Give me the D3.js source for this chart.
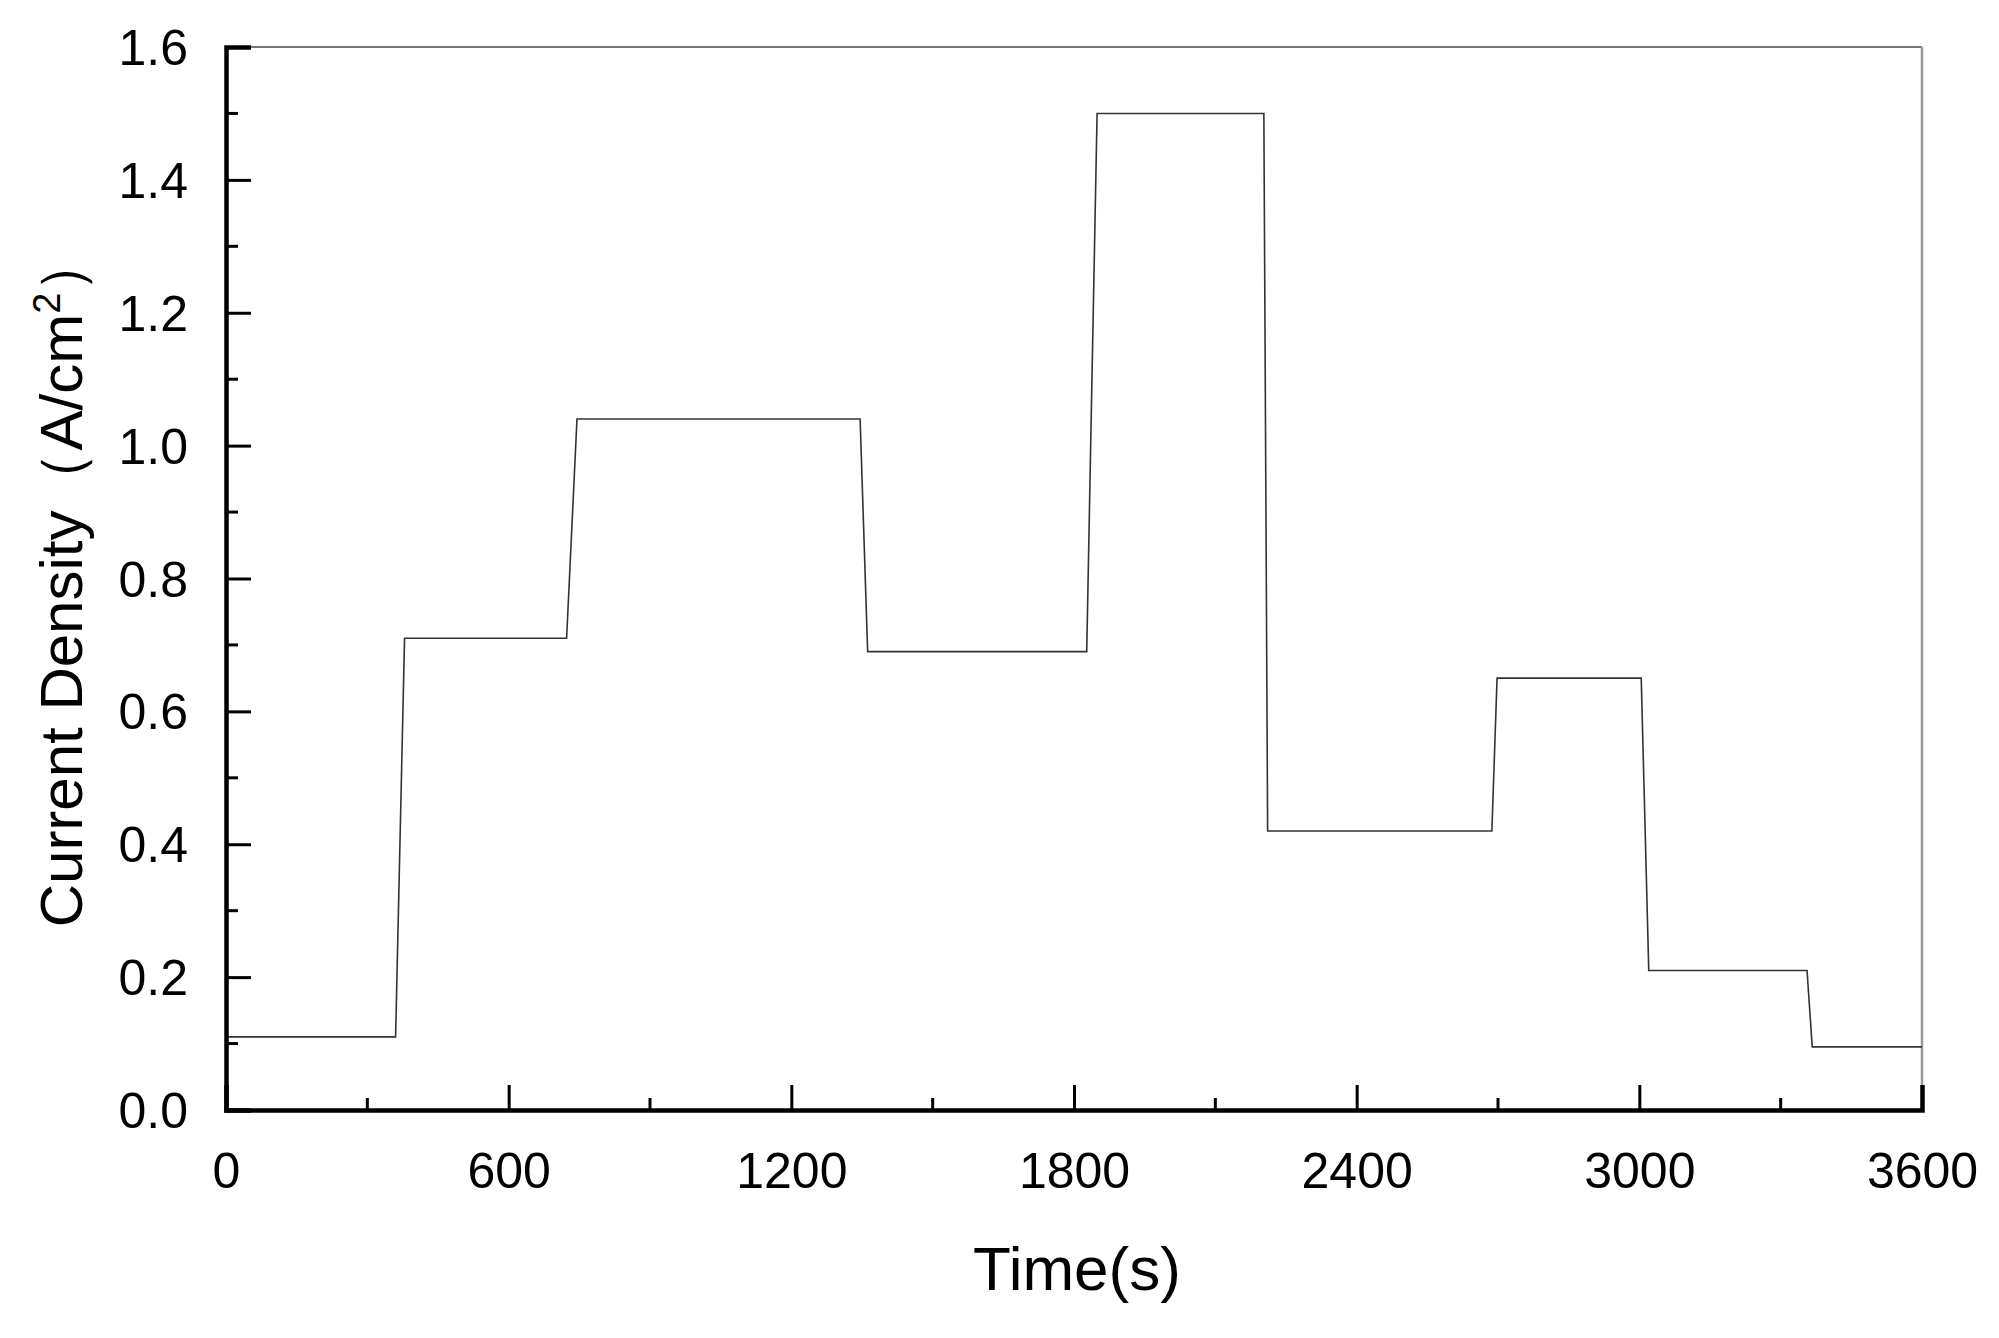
<!DOCTYPE html><html><head><meta charset="utf-8"><script src="https://d3js.org/d3.v7.min.js"></script>
<style>body{margin:0;background:#fff}text{font-family:"Liberation Sans",Arial,sans-serif;fill:#000}</style></head><body><svg id="c" width="1999" height="1338"></svg><script>
const times=[0,360,379,723,745,1346,1362,1827,1849,2203,2211,2687,2698,3004,3020,3356,3367,3600];
const values=[0.11,0.11,0.71,0.71,1.04,1.04,0.69,0.69,1.5,1.5,0.42,0.42,0.65,0.65,0.21,0.21,0.095,0.095];
const xTicks=[0,600,1200,1800,2400,3000,3600];
const yTicks=[0,0.2,0.4,0.6,0.8,1.0,1.2,1.4,1.6];
const svg=d3.select("#c");
const L=226,R=1922,T=47,B=1110;
const x=d3.scaleLinear().domain([0,3600]).range([L,R]);
const y=d3.scaleLinear().domain([0,1.6]).range([B,T]);
// frame top/right
svg.append("line").attr("x1",L).attr("x2",R).attr("y1",T).attr("y2",T).attr("stroke","#777").attr("stroke-width",2);
svg.append("line").attr("x1",R).attr("x2",R).attr("y1",T).attr("y2",B).attr("stroke","#999").attr("stroke-width",2.5);
// data
svg.append("path").datum(times.map((t,i)=>[t,values[i]])).attr("fill","none").attr("stroke","#333").attr("stroke-width",1.6)
 .attr("d",d3.line().x(d=>x(d[0])).y(d=>y(d[1])));
// minor ticks
d3.range(300,3600,600).forEach(t=>svg.append("line").attr("x1",x(t)).attr("x2",x(t)).attr("y1",B).attr("y2",B-12).attr("stroke","#000").attr("stroke-width",3));
d3.range(0.1,1.6,0.2).forEach(v=>svg.append("line").attr("x1",L).attr("x2",L+12).attr("y1",y(v)).attr("y2",y(v)).attr("stroke","#000").attr("stroke-width",3));
const xa=svg.append("g").attr("transform",`translate(0,${B})`).call(d3.axisBottom(x).tickValues(xTicks).tickSize(-25).tickPadding(42).tickFormat(d3.format("d")));
const ya=svg.append("g").attr("transform",`translate(${L},0)`).call(d3.axisLeft(y).tickValues(yTicks).tickSize(-25).tickPadding(38).tickFormat(d3.format(".1f")));
[xa,ya].forEach(g=>{g.selectAll("text").attr("font-size",50).attr("font-family","Liberation Sans");g.selectAll("line").attr("stroke-width",3);g.select(".domain").attr("stroke-width",4.5);});
ya.selectAll("text").attr("dy","0.35em");
svg.append("text").attr("x",1077).attr("y",1290).attr("text-anchor","middle").attr("font-size",62).text("Time(s)");
svg.append("text").attr("transform","translate(82,580) rotate(-90)").attr("text-anchor","middle").attr("font-size",60)
 .html('Current Density（A/cm<tspan dy="-22" font-size="38">2</tspan><tspan dy="22">）</tspan>');
</script></body></html>
